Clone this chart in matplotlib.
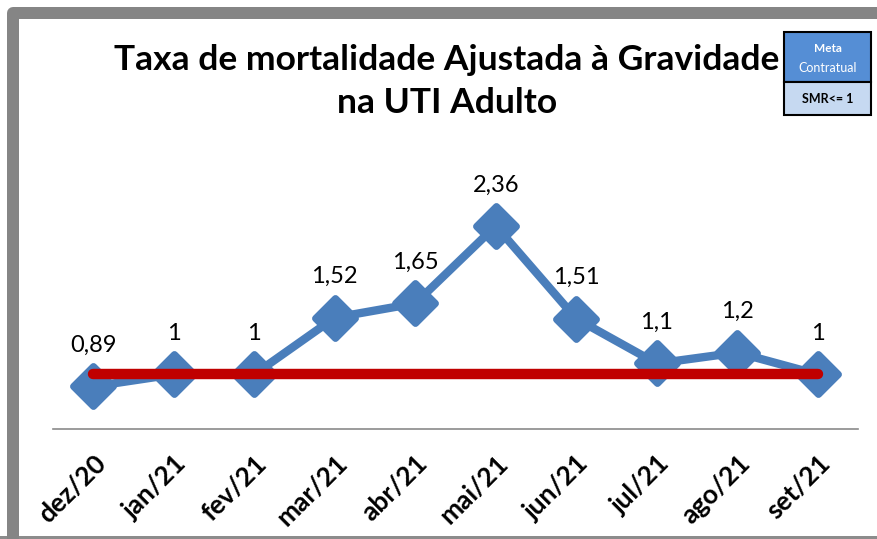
import matplotlib
matplotlib.use("Agg")
import matplotlib.pyplot as plt
from matplotlib.lines import Line2D
from matplotlib.markers import MarkerStyle
from matplotlib.patches import Rectangle

months = ["dez/20", "jan/21", "fev/21", "mar/21", "abr/21",
          "mai/21", "jun/21", "jul/21", "ago/21", "set/21"]
smr = [0.89, 1.0, 1.0, 1.52, 1.65, 2.36, 1.51, 1.1, 1.2, 1.0]
smr_labels = ["0,89", "1", "1", "1,52", "1,65", "2,36", "1,51", "1,1", "1,2", "1"]
meta = [1.0] * len(months)

W, H = 878, 539
fig = plt.figure(figsize=(W / 100, H / 100), dpi=100)
fig.patch.set_facecolor("white")

def fx(px):
    return px / W

def fy(py):
    return 1 - py / H

# outer frame (gray band on the left and top, thin line at the bottom)
frame = Line2D([fx(13), fx(13), fx(W + 20)], [fy(H + 20), fy(13), fy(13)],
               transform=fig.transFigure, color="#858585", linewidth=12 * 0.72,
               solid_joinstyle="round", solid_capstyle="butt")
fig.add_artist(frame)
fig.add_artist(Rectangle((0, 0), 1, fy(536), transform=fig.transFigure,
                         facecolor="#8c8c8c", edgecolor="none"))

ax = fig.add_axes([fx(53), fy(429), fx(858) - fx(53), fy(156) - fy(429)])
x = list(range(len(months)))

diamond = MarkerStyle("D", joinstyle="round")
ax.plot(x, smr, color="#4A7EBB", linewidth=6, marker=diamond, markersize=20,
        markerfacecolor="#4A7EBB", markeredgecolor="#4A7EBB",
        markeredgewidth=5, solid_joinstyle="round", zorder=2)
ax.plot(x, meta, color="#C00000", linewidth=7.5, solid_capstyle="round", zorder=3)

for xi, v, lab in zip(x, smr, smr_labels):
    ax.annotate(lab, (xi, v), xytext=(0, 29.5), textcoords="offset points",
                ha="center", va="center", fontsize=17, family="Lato",
                color="black")

ax.set_xlim(-0.5, len(months) - 0.5)
ax.set_ylim(0.5, 3.0)
ax.set_yticks([])
ax.set_xticks(x)
ax.set_xticklabels(months, rotation=45, ha="right", rotation_mode="anchor",
                   fontsize=19, fontweight="bold", family="Lato")
ax.tick_params(axis="x", length=0, pad=16)
for side in ("top", "left", "right"):
    ax.spines[side].set_visible(False)
ax.spines["bottom"].set_color("#8a8a8a")
ax.spines["bottom"].set_linewidth(1.2)
ax.patch.set_alpha(0)

fig.text(fx(447), fy(60), "Taxa de mortalidade Ajustada à Gravidade",
         ha="center", va="center", fontsize=25.5, fontweight="bold", family="Lato")
fig.text(fx(447), fy(103), "na UTI Adulto",
         ha="center", va="center", fontsize=25.5, fontweight="bold", family="Lato")

# target box
bx0, bx1 = 784, 871
fig.add_artist(Rectangle((fx(bx0), fy(82)), fx(bx1) - fx(bx0), fy(32) - fy(82),
                         transform=fig.transFigure, facecolor="#558ED5",
                         edgecolor="black", linewidth=1.5))
fig.add_artist(Rectangle((fx(bx0), fy(115)), fx(bx1) - fx(bx0), fy(82) - fy(115),
                         transform=fig.transFigure, facecolor="#C6D9F1",
                         edgecolor="black", linewidth=1.5))
cx = fx((bx0 + bx1) / 2)
fig.text(cx, fy(49), "Meta", ha="center", va="center", fontsize=8.5,
         fontweight="bold", color="white", family="Lato")
fig.text(cx, fy(68), "Contratual", ha="center", va="center", fontsize=9,
         color="white", family="Lato")
fig.text(cx, fy(99), "SMR<= 1", ha="center", va="center", fontsize=9,
         fontweight="bold", color="black", family="Lato")

fig.savefig("out.png", dpi=100)
